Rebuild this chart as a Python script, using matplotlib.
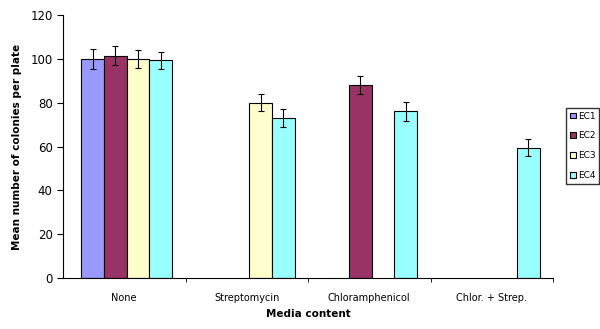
import numpy as np
import matplotlib.pyplot as plt

# data
categories = ["None", "Streptomycin", "Chloramphenicol", "Chlor. + Strep."]
series = ["EC1", "EC2", "EC3", "EC4"]
# NaN = no bar in that group
ec1 = [100, np.nan, np.nan, np.nan]
ec2 = [101.5, np.nan, 88, np.nan]
ec3 = [100, 80, np.nan, np.nan]
ec4 = [99.3, 73, 76, 59.5]
ec1_err = [4.6, 0, 0, 0]
ec2_err = [4.5, 0, 4.2, 0]
ec3_err = [4, 3.8, 0, 0]
ec4_err = [3.8, 4.2, 4.3, 4]
colors = ["#9999FF", "#993366", "#FFFFCC", "#99FFFF"]

values = [ec1, ec2, ec3, ec4]
errors = [ec1_err, ec2_err, ec3_err, ec4_err]

fig = plt.figure(figsize=(6, 3.29), dpi=100)
ax = fig.add_axes([63/600, 51/329, 490/600, 263/329])

x = np.arange(len(categories))
w = 0.186
for i, (vals, errs) in enumerate(zip(values, errors)):
    pos = x + (i - 1.5) * w + 0.02
    v = np.array(vals, dtype=float)
    e = np.array(errs, dtype=float)
    ok = ~np.isnan(v)
    ax.bar(pos[ok], v[ok], width=w, color=colors[i], edgecolor="black",
           linewidth=0.8, label=series[i])
    ax.errorbar(pos[ok], v[ok], yerr=e[ok], fmt="none", ecolor="black",
                elinewidth=0.8, capsize=2.5, capthick=0.8)

ax.set_xlim(-0.5, len(categories) - 0.5)
ax.set_ylim(0, 120)
ax.set_yticks(range(0, 121, 20))
ax.set_xticks(x)
ax.set_xticklabels(categories, fontsize=7)
ax.set_xticks(np.arange(0.5, len(categories), 1), minor=True)
ax.tick_params(axis="x", which="major", length=0, pad=11)
ax.tick_params(axis="x", which="minor", length=3, direction="out")
ax.tick_params(axis="y", labelsize=8.5, length=4, direction="out")

ax.spines["top"].set_visible(False)
ax.spines["right"].set_visible(False)

ax.set_xlabel("Media content", fontsize=7.5, fontweight="bold", labelpad=4)
ax.set_ylabel("Mean number of colonies per plate", fontsize=7.5,
              fontweight="bold", labelpad=6)

# legend squeezed against the right edge
fig.legend(loc="upper right", bbox_to_anchor=(599/600, 1 - 108/329),
           fontsize=6.5, frameon=True, fancybox=False, edgecolor="black",
           handlelength=0.6, handleheight=0.6, handletextpad=0.25,
           labelspacing=1.2, borderpad=0.4, borderaxespad=0)

fig.savefig("out.png", dpi=100)
